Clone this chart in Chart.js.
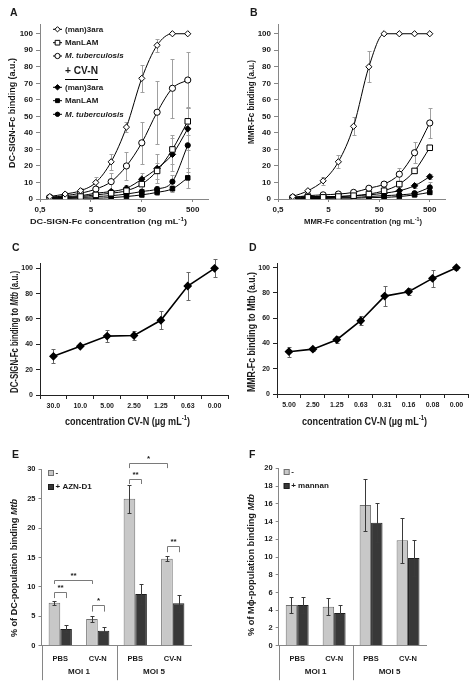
<!DOCTYPE html>
<html>
<head>
<meta charset="utf-8">
<title>CV-N binding panels</title>
<script src="https://cdn.jsdelivr.net/npm/chart.js@4.4.1/dist/chart.umd.min.js"></script>
<style>
  body { margin: 0; background: #fff; }
  #wrap { position: relative; width: 474px; height: 690px; overflow: hidden; background: #fff; }
  canvas { position: absolute; }
</style>
</head>
<body>
<div id="wrap">
  <canvas id="panelA" width="237" height="230" style="left:0px;top:0px"></canvas>
  <canvas id="panelB" width="237" height="230" style="left:237px;top:0px"></canvas>
  <canvas id="panelC" width="237" height="205" style="left:0px;top:230px"></canvas>
  <canvas id="panelD" width="237" height="205" style="left:237px;top:230px"></canvas>
  <canvas id="panelE" width="237" height="250" style="left:0px;top:440px"></canvas>
  <canvas id="panelF" width="237" height="250" style="left:237px;top:440px"></canvas>
</div>
<script>
// ---- values ----
// A: DC-SIGN-Fc, 2-fold dilutions from 400 ng/mL
const concA = [0.78, 1.56, 3.13, 6.25, 12.5, 25, 50, 100, 200, 400];
const aMan3ara = [1.5, 3, 5, 10, 22.5, 43.5, 73, 93, 100, 100];
const aMan3araErr = [0.5, 1, 1.5, 3.5, 5, 3, 8, 4, 0, 0];
const aManLAM = [0.5, 1, 1.5, 2.5, 3.5, 5, 9, 17, 30, 47];
const aManLAMErr = [0.3, 0.5, 0.8, 1, 1.5, 2, 3, 5, 9, 8];
const aMtb = [1, 2, 3.5, 6, 10.5, 20, 34, 52.5, 67, 72];
const aMtbErr = [0.5, 1, 2, 2, 5, 8.5, 12.6, 19, 18, 17];
const aMan3araCVN = [1, 1.5, 2, 3.5, 4.5, 6.5, 12, 18.5, 27, 42.5];
const aMan3araCVNErr = [0.3, 0.5, 0.8, 1, 1.5, 2, 4, 9, 10, 13];
const aManLAMCVN = [0.2, 0.3, 0.5, 0.5, 0.8, 1.5, 2.5, 4, 6.2, 12.8];
const aManLAMCVNErr = [0.2, 0.2, 0.3, 0.3, 0.5, 0.5, 1, 1.5, 2, 6];
const aMtbCVN = [0.5, 1, 1, 1.5, 2, 3, 4.5, 6, 10.5, 32.5];
const aMtbCVNErr = [0.3, 0.5, 0.5, 0.5, 0.8, 1, 1.5, 2, 4, 16];

// B: MMR-Fc, 2-fold dilutions from 500 ng/mL
const concB = [0.98, 1.95, 3.9, 7.8, 15.6, 31.3, 62.5, 125, 250, 500];
const bMan3ara = [1.5, 5, 11, 22.5, 44, 80, 100, 100, 100, 100];
const bMan3araErr = [0.5, 1, 2.5, 4, 5.5, 9.5, 0, 0, 0, 0];
const bManLAM = [0.5, 1, 1, 1.5, 2, 3, 5, 9, 17, 31];
const bManLAMErr = [0.2, 0.3, 0.3, 0.5, 0.5, 0.8, 1, 2, 1.5, 1.5];
const bMtb = [1, 2, 2.5, 3, 4, 6.5, 9, 15, 28, 46];
const bMtbErr = [0.5, 0.5, 0.5, 0.8, 1, 1.5, 2, 4, 6.5, 9];
const bMan3araCVN = [1, 1.5, 1.5, 1.5, 2, 2.5, 3.5, 5, 8, 13.5];
const bMan3araCVNErr = [0.3, 0.3, 0.3, 0.3, 0.5, 0.5, 0.8, 1, 1.5, 1.5];
const bManLAMCVN = [0.2, 0.3, 0.3, 0.5, 0.5, 0.8, 1, 1.5, 2.5, 4];
const bManLAMCVNErr = [0.1, 0.1, 0.2, 0.2, 0.3, 0.3, 0.5, 0.5, 0.8, 1];
const bMtbCVN = [0.5, 0.8, 0.8, 1, 1, 1.5, 2, 2.5, 3.5, 7];
const bMtbCVNErr = [0.2, 0.3, 0.3, 0.3, 0.3, 0.5, 0.5, 0.8, 1, 3];

const xTicksAB = [0.5, 5, 50, 500];
const xTickLabelsAB = ['0,5', '5', '50', '500'];
const yTicksAB = [0, 10, 20, 30, 40, 50, 60, 70, 80, 90, 100];
const seriesNames = ['(man)3ara', 'ManLAM', 'M. tuberculosis'];

// C: DC-SIGN-Fc binding to Mtb vs CV-N
const cLabels = ['30.0', '10.0', '5.00', '2.50', '1.25', '0.63', '0.00'];
const cValues = [30.5, 38.5, 46.5, 47, 59, 86, 100];
const cErr = [5.5, 1, 4.5, 3.3, 7, 11, 7];

// D: MMR-Fc binding to Mtb vs CV-N
const dLabels = ['5.00', '2.50', '1.25', '0.63', '0.31', '0.16', '0.08', '0.00'];
const dValues = [33.5, 35.5, 43, 58, 77.5, 81, 91.5, 100];
const dErr = [4, 1.5, 3, 3.5, 8, 3, 7, 1.5];
const yTicksCD = [0, 20, 40, 60, 80, 100];

// E / F: cell binding
const barLabels = ['PBS', 'CV-N', 'PBS', 'CV-N'];
const moiLabels = ['MOI 1', 'MOI 5'];
const eCtrl = [7.3, 4.55, 25, 14.8];
const eCtrlErr = [0.35, 0.55, 2.4, 0.4];
const eAzn = [2.85, 2.55, 8.8, 7.2];
const eAznErr = [0.6, 0.55, 1.7, 1.5];
const fCtrl = [4.6, 4.4, 15.85, 11.9];
const fCtrlErr = [0.9, 0.95, 2.9, 2.55];
const fMannan = [4.6, 3.7, 13.85, 9.9];
const fMannanErr = [0.9, 0.85, 2.2, 2.0];

// significance brackets in E: [dataset, category] pairs, heights in % units
const eBrFrom = [[0, 0], [0, 1], [0, 0], [0, 2], [0, 3], [0, 2]];
const eBrTo = [[1, 0], [1, 1], [0, 1], [1, 2], [1, 3], [0, 3]];
const eBrTop = [9.2, 6.9, 11.2, 28.3, 17.0, 31.0];
const eBrLeg = [8.1, 5.8, 10.5, 27.5, 15.9, 30.2];
const eBrMark = ['**', '*', '**', '**', '**', '*'];

// ---- helpers ----
const FAM = '"Liberation Sans", Arial, sans-serif';
const TXT = '#1a1a1a';
const AX = '#868686';
const fnt = (size, weight, style) => `${style || ''} ${weight || ''} ${size}px ${FAM}`;

function rich(ctx, parts, x, y, o = {}) {
  ctx.save();
  ctx.translate(x, y);
  if (o.rotate) ctx.rotate(-Math.PI / 2);
  let w = 0;
  const ws = parts.map(p => { ctx.font = p[1]; const m = ctx.measureText(p[0]).width; w += m; return m; });
  ctx.scale(o.width ? o.width / w : 1, 1);
  let cx = o.align === 'left' ? 0 : -w / 2;
  ctx.fillStyle = o.color || TXT;
  ctx.textBaseline = 'middle';
  ctx.textAlign = 'left';
  parts.forEach((p, i) => { ctx.font = p[1]; ctx.fillText(p[0], cx, p[2] || 0); cx += ws[i]; });
  ctx.restore();
}

function mark(ctx, style, x, y, r, filled) {
  ctx.beginPath();
  if (style === 'rectRot') {
    ctx.moveTo(x, y - r); ctx.lineTo(x + r, y); ctx.lineTo(x, y + r); ctx.lineTo(x - r, y); ctx.closePath();
  } else if (style === 'rect') {
    const s = r * Math.SQRT1_2;
    ctx.rect(x - s, y - s, 2 * s, 2 * s);
  } else {
    ctx.arc(x, y, r, 0, Math.PI * 2);
  }
  ctx.fillStyle = filled ? '#000' : '#fff';
  ctx.fill();
  ctx.strokeStyle = '#000';
  ctx.lineWidth = 1;
  ctx.stroke();
}

function errPlugin(color, cap, after) {
  const draw = chart => {
    const ctx = chart.ctx, ys = chart.scales.y;
    ctx.save();
    ctx.strokeStyle = color;
    ctx.lineWidth = 1;
    chart.data.datasets.forEach((ds, i) => {
      if (!ds.errors) return;
      chart.getDatasetMeta(i).data.forEach((el, j) => {
        const e = ds.errors[j];
        if (!e) return;
        const raw = ds.data[j];
        const v = typeof raw === 'object' ? raw.y : raw;
        const x = Math.round(el.x) + 0.5;
        const y1 = Math.round(ys.getPixelForValue(v + e)) + 0.5;
        const y2 = Math.round(ys.getPixelForValue(Math.max(v - e, 0))) + 0.5;
        ctx.beginPath();
        ctx.moveTo(x, y1); ctx.lineTo(x, y2);
        ctx.moveTo(x - cap, y1); ctx.lineTo(x + cap, y1);
        ctx.moveTo(x - cap, y2); ctx.lineTo(x + cap, y2);
        ctx.stroke();
      });
    });
    ctx.restore();
  };
  return after ? { id: 'errbars', afterDatasetsDraw: draw } : { id: 'errbars', beforeDatasetsDraw: draw };
}

const markStyles = ['rectRot', 'rect', 'circle'];
const openR = [3.1, 3.9, 3.1];
const fillR = [3.2, 3.2, 2.6];

function lineSet(xs, ys, err, k, filled) {
  return {
    data: xs.map((x, i) => ({ x: x, y: ys[i] })),
    errors: err,
    borderColor: '#000',
    borderWidth: 1,
    pointStyle: markStyles[k],
    pointRadius: filled ? fillR[k] : openR[k],
    pointBackgroundColor: filled ? '#000' : '#fff',
    pointBorderColor: '#000',
    pointBorderWidth: 1,
    cubicInterpolationMode: 'monotone'
  };
}

function baseOpts(padding) {
  return {
    responsive: false,
    animation: false,
    devicePixelRatio: 1,
    layout: { padding: padding },
    plugins: { legend: { display: false }, tooltip: { enabled: false } }
  };
}

function concScales(yMax) {
  return {
    x: {
      type: 'logarithmic', min: 0.5, max: 1000,
      afterBuildTicks: s => { s.ticks = xTicksAB.map(v => ({ value: v })); },
      afterFit: s => { s.height = 20; },
      ticks: { autoSkip: false, maxRotation: 0, padding: 3, color: TXT,
        font: { family: FAM, size: 8, weight: 'bold' },
        callback: (v, i) => xTickLabelsAB[i] },
      grid: { display: true, drawOnChartArea: false, tickLength: 3, color: AX },
      border: { display: true, color: AX }
    },
    y: {
      min: 0, max: yMax,
      afterBuildTicks: s => { s.ticks = yTicksAB.map(v => ({ value: v })); },
      afterFit: s => { s.width = 40; },
      ticks: { autoSkip: false, padding: 3, color: TXT, font: { family: FAM, size: 8, weight: 'bold' } },
      grid: { display: true, drawOnChartArea: false, tickLength: 4, color: AX },
      border: { display: true, color: AX }
    }
  };
}

// ---- A ----
new Chart(document.getElementById('panelA'), {
  type: 'line',
  data: {
    datasets: [
      lineSet(concA, aMan3ara, aMan3araErr, 0, false),
      lineSet(concA, aManLAM, aManLAMErr, 1, false),
      lineSet(concA, aMtb, aMtbErr, 2, false),
      lineSet(concA, aMan3araCVN, aMan3araCVNErr, 0, true),
      lineSet(concA, aManLAMCVN, aManLAMCVNErr, 1, true),
      lineSet(concA, aMtbCVN, aMtbCVNErr, 2, true)
    ]
  },
  options: Object.assign(baseOpts({ left: 0, right: 29, top: 24, bottom: 11 }), { scales: concScales(105.9) }),
  plugins: [errPlugin('#a0a0a0', 2, false), {
    id: 'decorA',
    afterDraw(chart) {
      const ctx = chart.ctx;
      rich(ctx, [['A', fnt(10.5, 'bold')]], 10, 13.5, { align: 'left' });
      rich(ctx, [['DC-SIGN-Fc binding (a.u.)', fnt(8.5, 'bold')]], 12.5, 113, { rotate: true, width: 110 });
      rich(ctx, [['DC-SIGN-Fc concentration (ng mL', fnt(8, 'bold')], ['-1', fnt(5.5, 'bold'), -3], [')', fnt(8, 'bold')]],
        108.5, 222, { width: 157 });
      const rows = [29.3, 42.7, 56, 87.3, 100.7, 114.3];
      rows.forEach((y, i) => {
        const k = i % 3, filled = i >= 3;
        ctx.strokeStyle = '#000'; ctx.lineWidth = 1;
        ctx.beginPath(); ctx.moveTo(53, y); ctx.lineTo(62, y); ctx.stroke();
        mark(ctx, markStyles[k], 57.5, y, (filled ? fillR[k] : openR[k]) * 0.85, filled);
        rich(ctx, [[seriesNames[k], fnt(8, 'bold', k === 2 ? 'italic' : '')]], 65, y, { align: 'left' });
      });
      rich(ctx, [['+ CV-N', fnt(10, 'bold')]], 65, 71.5, { align: 'left', width: 33 });
      ctx.strokeStyle = '#000'; ctx.lineWidth = 1;
      ctx.beginPath(); ctx.moveTo(65, 79.5); ctx.lineTo(98, 79.5); ctx.stroke();
    }
  }]
});

// ---- B ----
new Chart(document.getElementById('panelB'), {
  type: 'line',
  data: {
    datasets: [
      lineSet(concB, bMan3ara, bMan3araErr, 0, false),
      lineSet(concB, bManLAM, bManLAMErr, 1, false),
      lineSet(concB, bMtb, bMtbErr, 2, false),
      lineSet(concB, bMan3araCVN, bMan3araCVNErr, 0, true),
      lineSet(concB, bManLAMCVN, bManLAMCVNErr, 1, true),
      lineSet(concB, bMtbCVN, bMtbCVNErr, 2, true)
    ]
  },
  options: Object.assign(baseOpts({ left: 1, right: 29, top: 24, bottom: 11 }), { scales: concScales(105.9) }),
  plugins: [errPlugin('#a0a0a0', 2, false), {
    id: 'decorB',
    afterDraw(chart) {
      const ctx = chart.ctx;
      rich(ctx, [['B', fnt(10.5, 'bold')]], 13, 13.5, { align: 'left' });
      rich(ctx, [['MMR-Fc binding (a.u.)', fnt(8.5, 'bold')]], 15, 102, { rotate: true, width: 84 });
      rich(ctx, [['MMR-Fc concentration (ng mL', fnt(8, 'bold')], ['-1', fnt(5.5, 'bold'), -3], [')', fnt(8, 'bold')]],
        126, 222, { width: 118 });
    }
  }]
});

// ---- C / D ----
function cvnChart(id, labels, values, errs, pad, yMax, letter, yTitle, yW) {
  return new Chart(document.getElementById(id), {
    type: 'line',
    data: {
      labels: labels,
      datasets: [{
        data: values, errors: errs,
        borderColor: '#000', borderWidth: 1.6,
        pointStyle: 'rectRot', pointRadius: 3.3,
        pointBackgroundColor: '#000', pointBorderColor: '#000', tension: 0
      }]
    },
    options: Object.assign(baseOpts(pad), {
      scales: {
        x: {
          offset: true,
          afterFit: s => { s.height = 25; },
          ticks: { autoSkip: false, maxRotation: 0, padding: 3, color: TXT, font: { family: FAM, size: 7, weight: 'bold' } },
          grid: { display: true, offset: true, drawOnChartArea: false, tickLength: 4, color: '#222' },
          border: { display: true, color: '#222' }
        },
        y: {
          min: 0, max: yMax,
          afterBuildTicks: s => { s.ticks = yTicksCD.map(v => ({ value: v })); },
          afterFit: s => { s.width = 40; },
          ticks: { autoSkip: false, padding: 3, color: TXT, font: { family: FAM, size: 7, weight: 'bold' } },
          grid: { display: true, drawOnChartArea: false, tickLength: 4, color: '#222' },
          border: { display: true, color: '#222' }
        }
      }
    }),
    plugins: [errPlugin('#666', 2, false), {
      id: 'decor' + letter,
      afterDraw(chart) {
        const ctx = chart.ctx;
        rich(ctx, [[letter, fnt(10.5, 'bold')]], 12, 18, { align: 'left' });
        rich(ctx, yTitle, 15, 102, { rotate: true, width: yW });
        rich(ctx, [['concentration CV-N (\u00b5g mL', fnt(11.5, 'bold')], ['-1', fnt(7.5, 'bold'), -4], [')', fnt(11.5, 'bold')]],
          127.5, 192, { width: 125 });
      }
    }]
  });
}

cvnChart('panelC', cLabels, cValues, cErr, { left: 0, right: 9, top: 33, bottom: 15 }, 104.2, 'C',
  [['DC-SIGN-Fc binding to ', fnt(11.5, 'bold')], ['Mtb', fnt(11.5, 'bold', 'italic')], [' (a.u.)', fnt(11.5, 'bold')]], 122);
cvnChart('panelD', dLabels, dValues, dErr, { left: 0, right: 3.4, top: 33, bottom: 16 }, 103.7, 'D',
  [['MMR-Fc binding to Mtb (a.u.)', fnt(11.5, 'bold')]], 120);

// ---- E / F ----
function cellChart(id, ctrl, ctrlErr, treat, treatErr, pad, yW, yMax, step, letter, yTitle, yTitleW, yTitleY, legX, legY, treatName, extra) {
  return new Chart(document.getElementById(id), {
    type: 'bar',
    data: {
      labels: barLabels,
      datasets: [
        { data: ctrl, errors: ctrlErr, backgroundColor: '#c8c8c8', borderColor: '#707070', borderWidth: 1,
          categoryPercentage: 0.62, barPercentage: 1 },
        { data: treat, errors: treatErr, backgroundColor: '#383838', borderColor: '#1e1e1e', borderWidth: 1,
          categoryPercentage: 0.62, barPercentage: 1 }
      ]
    },
    options: Object.assign(baseOpts(pad), {
      scales: {
        x: {
          afterFit: s => { s.height = 30; },
          ticks: { autoSkip: false, maxRotation: 0, padding: 9, color: TXT, font: { family: FAM, size: 7.5, weight: 'bold' } },
          grid: { display: false, drawTicks: false },
          border: { display: true, color: AX }
        },
        y: {
          min: 0, max: yMax,
          afterFit: s => { s.width = yW; },
          ticks: { autoSkip: false, stepSize: step, padding: 3, color: TXT, font: { family: FAM, size: 7.5, weight: 'bold' } },
          grid: { display: true, drawOnChartArea: false, tickLength: 3, color: AX },
          border: { display: true, color: AX }
        }
      }
    }),
    plugins: [errPlugin('#3a3a3a', 2, true), {
      id: 'decor' + letter,
      afterDraw(chart) {
        const ctx = chart.ctx, xs = chart.scales.x, area = chart.chartArea;
        rich(ctx, [[letter, fnt(10.5, 'bold')]], 12, 15, { align: 'left' });
        rich(ctx, yTitle, 15, yTitleY, { rotate: true, width: yTitleW });
        // legend
        ctx.fillStyle = '#c8c8c8'; ctx.strokeStyle = '#707070'; ctx.lineWidth = 1;
        ctx.fillRect(legX, legY, 5.5, 5.5); ctx.strokeRect(legX + 0.5, legY + 0.5, 5, 5);
        ctx.fillStyle = '#383838'; ctx.strokeStyle = '#1e1e1e';
        ctx.fillRect(legX, legY + 14, 5.5, 5.5); ctx.strokeRect(legX + 0.5, legY + 14.5, 5, 5);
        rich(ctx, [['-', fnt(8, 'bold')]], legX + 7.5, legY + 2.8, { align: 'left' });
        rich(ctx, [[treatName, fnt(8, 'bold')]], legX + 7.5, legY + 16.8, { align: 'left' });
        // group labels and separators
        const p = i => xs.getPixelForValue(i);
        ctx.strokeStyle = AX; ctx.lineWidth = 1;
        const sep = [area.left, (p(1) + p(2)) / 2];
        sep.forEach(x => {
          const xx = Math.round(x) + 0.5;
          ctx.beginPath(); ctx.moveTo(xx, area.bottom); ctx.lineTo(xx, area.bottom + 34.5); ctx.stroke();
        });
        rich(ctx, [[moiLabels[0], fnt(8, 'bold')]], (p(0) + p(1)) / 2, area.bottom + 26.5);
        rich(ctx, [[moiLabels[1], fnt(8, 'bold')]], (p(2) + p(3)) / 2, area.bottom + 26.5);
        if (extra) extra(chart);
      }
    }]
  });
}

function eBrackets(chart) {
  const ctx = chart.ctx, ys = chart.scales.y;
  const bx = ref => chart.getDatasetMeta(ref[0]).data[ref[1]].x;
  ctx.save();
  ctx.strokeStyle = '#7a7a7a'; ctx.lineWidth = 1;
  eBrFrom.forEach((a, i) => {
    const x1 = Math.round(bx(a)) + 0.5, x2 = Math.round(bx(eBrTo[i])) + 0.5;
    const yt = Math.round(ys.getPixelForValue(eBrTop[i])) + 0.5;
    const yl = ys.getPixelForValue(eBrLeg[i]);
    ctx.beginPath();
    ctx.moveTo(x1, yl); ctx.lineTo(x1, yt); ctx.lineTo(x2, yt); ctx.lineTo(x2, yl);
    ctx.stroke();
    rich(ctx, [[eBrMark[i], fnt(8, 'bold')]], (x1 + x2) / 2, yt - 4.5);
  });
  ctx.restore();
}

cellChart('panelE', eCtrl, eCtrlErr, eAzn, eAznErr, { left: 0, right: 45.5, top: 29.3, bottom: 14.3 }, 41.5, 30, 5, 'E',
  [['% of DC-population binding ', fnt(8.5, 'bold')], ['Mtb', fnt(8.5, 'bold', 'italic')]], 138, 128, 48, 30, '+ AZN-D1', eBrackets);
cellChart('panelF', fCtrl, fCtrlErr, fMannan, fMannanErr, { left: 0, right: 47.5, top: 28.3, bottom: 14.3 }, 41.7, 20, 2, 'F',
  [['% of M\u03d5-population binding ', fnt(8.5, 'bold')], ['Mtb', fnt(8.5, 'bold', 'italic')]], 142, 125, 46.7, 29, '+ mannan', null);
</script>
</body>
</html>
